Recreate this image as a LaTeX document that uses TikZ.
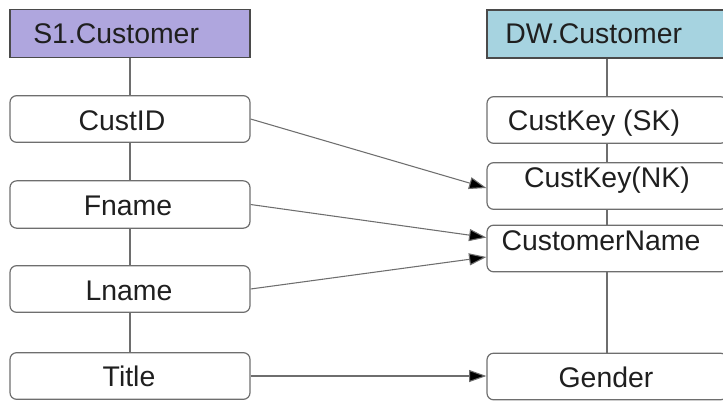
\documentclass[tikz,border=0pt]{standalone}
\usepackage{fontspec}
\setmainfont{Liberation Sans}
\usetikzlibrary{arrows.meta,calc}
\definecolor{srcfill}{HTML}{AFA6DE}
\definecolor{dwfill}{HTML}{A6D3E0}
\definecolor{edge}{HTML}{6E6E6E}
\definecolor{hdredge}{HTML}{4A4A4A}
% one unit = one pixel of a 723 x 400 canvas (0.75pt)
\tikzset{
  hdrbox/.style={draw=hdredge, line width=0.9pt, minimum width=180pt, minimum height=36pt, inner sep=0pt},
  fieldbox/.style={draw=edge, line width=0.9pt, rounded corners=5pt, minimum width=180pt, minimum height=35pt, inner sep=0pt},
  txt/.style={anchor=base, inner sep=0pt, font=\fontsize{21.3}{24}\selectfont, text=black!88},
  tree/.style={draw=edge, line width=0.9pt},
  map/.style={draw=edge, line width=0.8pt, -{Triangle[length=13pt,width=9pt,fill=black]}}
}
\begin{document}
\begin{tikzpicture}[x=0.75pt, y=-0.75pt]
  \useasboundingbox (0,0) rectangle (723,400);
  \clip (0,0) rectangle (723,400);

  % source table
  \node[hdrbox, fill=srcfill] (s1) at (130,33.5) {};
  \node[fieldbox] (custid) at (130,119) {};
  \node[fieldbox, minimum height=35.5pt] (fname) at (130,204.5) {};
  \node[fieldbox] (lname) at (130,289) {};
  \node[fieldbox] (title) at (130,376) {};

  % warehouse table
  \node[hdrbox, fill=dwfill] (dw) at (607,34) {};
  \node[fieldbox] (sk) at (607,120) {};
  \node[fieldbox] (nk) at (607,186) {};
  \node[fieldbox] (cname) at (607,248.5) {};
  \node[fieldbox] (gender) at (607,376.5) {};

  % tree links
  \draw[tree] (s1.south) -- (custid.north);
  \draw[tree] (custid.south) -- (fname.north);
  \draw[tree] (fname.south) -- (lname.north);
  \draw[tree] (lname.south) -- (title.north);
  \draw[tree] (dw.south) -- (sk.north);
  \draw[tree] (sk.south) -- (nk.north);
  \draw[tree] (nk.south) -- (cname.north);
  \draw[tree] (cname.south) -- (gender.north);

  % labels
  \node[txt, anchor=base west] (s1t) at (33,43) {S1.Customer};
  \node[txt] (custidt) at (122,130) {CustID};
  \node[txt] (fnamet) at (128,215) {Fname};
  \node[txt] (lnamet) at (129,300) {Lname};
  \node[txt] (titlet) at (129,386) {Title};
  \node[txt, anchor=base west] (dwt) at (505,43) {DW.Customer};
  \node[txt] (skt) at (594,130) {CustKey (SK)};
  \node[txt] (nkt) at (607,187) {CustKey(NK)};
  \node[txt] (cnamet) at (601,250) {CustomerName};
  \node[txt] (gendert) at (606,387) {Gender};

  % field mappings
  \draw[map] (custid.east) -- ($(nk.west)+(0,2)$);
  \draw[map] (fname.east) -- ($(cname.west)+(0,-11)$);
  \draw[map] (lname.east) -- ($(cname.west)+(0,8.5)$);
  \draw[map] (title.east) -- (gender.west |- title.east);
\end{tikzpicture}
\end{document}
